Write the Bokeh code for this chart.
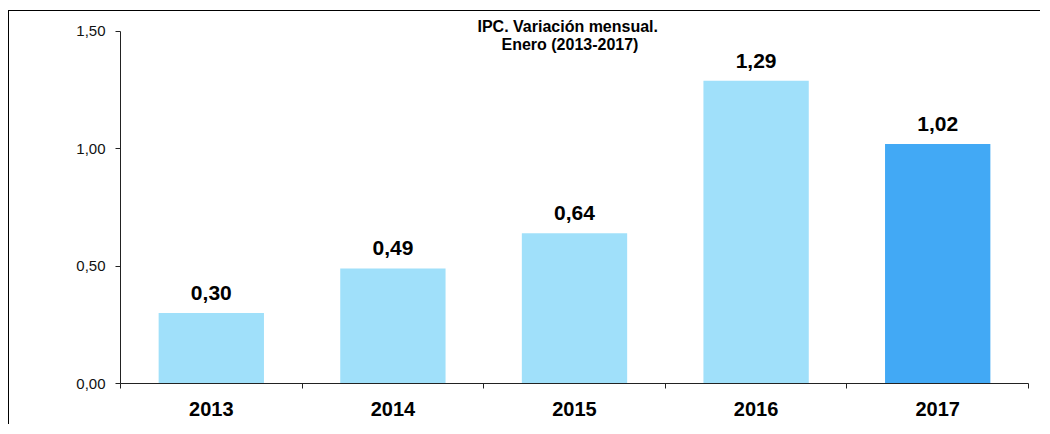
from bokeh.plotting import figure
from bokeh.models import (ColumnDataSource, Range1d, FixedTicker, CustomJSTickFormatter,
                          LinearAxis, Label)
from bokeh.core.properties import value
from bokeh.embed import file_html
from bokeh.resources import INLINE

# ---- data ----
years = ["2013", "2014", "2015", "2016", "2017"]
ipc = [0.30, 0.49, 0.64, 1.29, 1.02]
y_ticks = [0.0, 0.5, 1.0, 1.5]
title_lines = ["IPC. Variación  mensual.", "Enero (2013-2017)"]

LIGHT = "#A0E0FA"
DARK = "#42A9F5"
FONT = "Liberation Sans"

n = len(years)
xs = [i + 0.5 for i in range(n)]
colors = [DARK if i == n - 1 else LIGHT for i in range(n)]
labels = [f"{v:.2f}".replace(".", ",") for v in ipc]

source = ColumnDataSource(dict(x=xs, top=ipc, color=colors, label=labels))

p = figure(width=1032, height=414, output_backend="svg", toolbar_location=None,
           x_range=Range1d(0, n), y_range=Range1d(0, 1.5637),
           x_axis_type=None, y_axis_type=None,
           min_border_left=111, min_border_right=13, min_border_top=5, min_border_bottom=42)
p.styles = {"border-top": "1px solid #000", "border-left": "1px solid #000",
            "margin-top": "10px", "margin-left": "8px"}
p.outline_line_color = None
p.xgrid.visible = False
p.ygrid.visible = False
p.background_fill_color = "white"
p.border_fill_color = "white"

# y axis
yaxis = LinearAxis(ticker=FixedTicker(ticks=y_ticks, minor_ticks=[]),
                   formatter=CustomJSTickFormatter(code="return tick.toFixed(2).replace('.', ',');"),
                   bounds=(0, 1.5))
yaxis.axis_line_color = "#222222"
yaxis.major_tick_line_color = "#222222"
yaxis.major_tick_out = 5
yaxis.major_tick_in = 0
yaxis.minor_tick_line_color = None
yaxis.major_label_standoff = 10
yaxis.major_label_text_font = FONT
yaxis.major_label_text_font_size = "15px"
yaxis.major_label_text_color = "#111111"
p.add_layout(yaxis, "left")

# x axis: labels at centres, ticks at category boundaries (minor ticks)
xaxis = LinearAxis(ticker=FixedTicker(ticks=xs, minor_ticks=list(range(n + 1))),
                   formatter=CustomJSTickFormatter(args=dict(labels=years),
                                                   code="return labels[Math.floor(tick)];"))
xaxis.axis_line_color = "#222222"
xaxis.major_tick_line_color = None
xaxis.major_tick_out = 0
xaxis.major_tick_in = 0
xaxis.minor_tick_line_color = "#222222"
xaxis.minor_tick_out = 5
xaxis.minor_tick_in = 0
xaxis.major_label_standoff = 13
xaxis.major_label_text_font = FONT
xaxis.major_label_text_font_size = "20px"
xaxis.major_label_text_font_style = "bold"
xaxis.major_label_text_color = "#000000"
p.add_layout(xaxis, "below")

p.vbar(x="x", top="top", width=0.58, color="color", line_color=None, source=source)

p.text(x="x", y="top", text="label", source=source, text_align="center",
       text_baseline="bottom", y_offset=-13, text_font=value(FONT),
       text_font_size="21px", text_font_style="bold", text_color="#000000")

for i, line in enumerate(title_lines):
    p.add_layout(Label(x=2.475, y=1.521 - i * 0.0765, text=line, text_align="center",
                       text_baseline="middle", text_font=FONT, text_font_size="16px",
                       text_font_style="bold", text_color="#000000"))

open("out.html", "w").write(file_html(p, INLINE))
